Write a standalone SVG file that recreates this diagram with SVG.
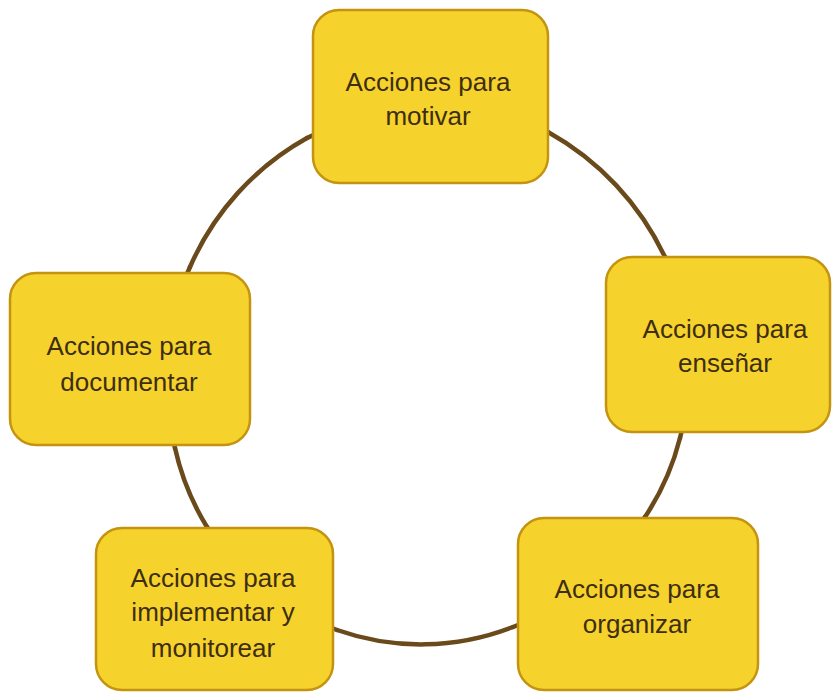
<svg xmlns="http://www.w3.org/2000/svg" width="832" height="693" viewBox="0 0 832 693">
<style>
.box{fill:#f6d22c;stroke:#c4930f;stroke-width:2.5}
.lbl{font-family:"Liberation Sans",Arial,sans-serif;font-size:26px;fill:#3d2e12;text-anchor:middle}
.ring{fill:none;stroke:#6a4a1b;stroke-width:4.5;stroke-linecap:round}
</style>
<rect width="832" height="693" fill="#ffffff"/>
<g id="connectors">
<path class="ring" d="M307,138 A282,282 0 0 1 548,132"/>
<path class="ring" d="M548,132 A280,280 0 0 1 665,257"/>
<path class="ring" d="M665,257 A265,265 0 0 1 680,438"/>
<path class="ring" d="M680,438 A255,255 0 0 1 645,517"/>
<path class="ring" d="M645,517 A252,252 0 0 1 513,627"/>
<path class="ring" d="M513,627 A252,252 0 0 1 337,630"/>
<path class="ring" d="M337,630 A255,255 0 0 1 207,527"/>
<path class="ring" d="M207,527 A258,258 0 0 1 175,448"/>
<path class="ring" d="M175,448 A262,262 0 0 1 190,267"/>
<path class="ring" d="M190,267 A272,272 0 0 1 307,138"/>
</g>
<g id="motivar">
<rect class="box" x="313" y="10" width="235" height="173" rx="26"/>
<text class="lbl" x="428" y="91">Acciones para</text>
<text class="lbl" x="428" y="125">motivar</text>
</g>
<g id="ensenar">
<rect class="box" x="606" y="257" width="224" height="175" rx="26"/>
<text class="lbl" x="725" y="338">Acciones para</text>
<text class="lbl" x="725" y="372">enseñar</text>
</g>
<g id="organizar">
<rect class="box" x="518" y="518" width="240" height="172" rx="26"/>
<text class="lbl" x="637" y="598">Acciones para</text>
<text class="lbl" x="637" y="633">organizar</text>
</g>
<g id="implementar">
<rect class="box" x="96" y="528" width="237" height="162" rx="26"/>
<text class="lbl" x="213" y="587">Acciones para</text>
<text class="lbl" x="213" y="621">implementar y</text>
<text class="lbl" x="213" y="657">monitorear</text>
</g>
<g id="documentar">
<rect class="box" x="10" y="273" width="240" height="172" rx="26"/>
<text class="lbl" x="129" y="355">Acciones para</text>
<text class="lbl" x="129" y="391">documentar</text>
</g>
</svg>
